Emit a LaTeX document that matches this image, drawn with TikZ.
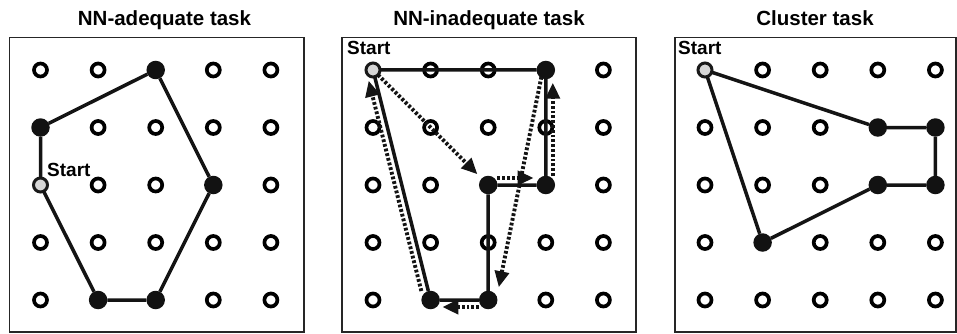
\documentclass[tikz,border=0pt]{standalone}
\usepackage{fontspec}
\setmainfont{Liberation Sans}
\usetikzlibrary{arrows.meta}

\makeatletter
% 5x5 board of targets: #1 name prefix, #2 x of the first column,
% #3 start cell, #4 cells that belong to the route (given as i-j)
\newcommand\boardgrid[4]{%
  \foreach \i in {0,...,4}{%
    \foreach \j in {0,...,4}{%
      \edef\cellkey{,\i-\j,}%
      \tikzset{cellnow/.style={opendot}}%
      \expandafter\in@\expandafter{\cellkey}{,#4,}%
      \ifin@\tikzset{cellnow/.style={visited}}\fi
      \expandafter\in@\expandafter{\cellkey}{,#3,}%
      \ifin@\tikzset{cellnow/.style={startdot}}\fi
      \node[cellnow] (#1-\i-\j) at ({#2+57.6*\i},{70+57.5*\j}) {};
    }%
  }%
}
\makeatother

\begin{document}
\begin{tikzpicture}[x=1pt,y=-1pt,
  frame/.style={draw=black!85, line width=1.4pt},
  title/.style={font=\bfseries\fontsize{20.5}{24}\selectfont, anchor=base, inner sep=0pt},
  startlbl/.style={font=\bfseries\fontsize{19}{22}\selectfont, anchor=base west, inner sep=0pt},
  opendot/.style={circle, draw=black, fill=white, line width=3.7pt, minimum size=13pt, inner sep=0pt, outer sep=0pt},
  visited/.style={circle, fill=black!93, minimum size=18.5pt, inner sep=0pt, outer sep=0pt},
  startdot/.style={circle, draw=black!90, fill=black!16, line width=3pt, minimum size=14pt, inner sep=0pt, outer sep=0pt},
  route/.style={draw=black!92, line width=3.5pt, line join=round},
  nn/.style={draw=black!92, line width=3.9pt, dash pattern=on 2.8pt off 2pt,
             arrows={-Triangle[length=16pt 0 0, width=14pt 0 0]}},
]
\useasboundingbox (0,0) rectangle (957,334);

% panel frames
\draw[frame] (9.5,37.5) rectangle (304,332);
\draw[frame] (342,37.5) rectangle (636,332);
\draw[frame] (675,37.5) rectangle (956,332);

% panel titles
\node[title] (t1) at (164.5,25.7) {NN-adequate task};
\node[title] (t2) at (489,25.7) {NN-inadequate task};
\node[title] (t3) at (815,25.7) {Cluster task};

% boards
\boardgrid{a}{40.5}{0-2}{0-1,2-0,3-2,2-4,1-4}
\boardgrid{b}{373}{0-0}{3-0,2-2,3-2,1-4,2-4}
\boardgrid{c}{705}{0-0}{3-1,4-1,3-2,4-2,1-3}

% start labels
\node[startlbl] (s1) at (47,176) {Start};
\node[startlbl] (s2) at (347,55) {Start};
\node[startlbl] (s3) at (678,55) {Start};

% optimal tours
\draw[route] (a-0-2) -- (a-0-1) -- (a-2-0) -- (a-3-2) -- (a-2-4) -- (a-1-4) -- (a-0-2);
\draw[route] (b-0-0) -- (b-3-0) -- (b-3-2) -- (b-2-2) -- (b-2-4) -- (b-1-4) -- (b-0-0);
\draw[route] (c-0-0) -- (c-3-1) -- (c-4-1) -- (c-4-2) -- (c-3-2) -- (c-1-3) -- (c-0-0);

% nearest-neighbour tour
\draw[nn, shorten >=6pt] (b-0-0) -- (b-2-2);
\draw[nn, shorten >=3pt, transform canvas={yshift=7pt}] (b-2-2) -- (b-3-2);
\draw[nn, shorten >=3.5pt, transform canvas={xshift=7pt}] (b-3-2) -- (b-3-0);
\draw[nn, shorten <=7pt, shorten >=13pt] ([xshift=-3pt]b-3-0.center) -- ([xshift=8pt]b-2-4.center);
\draw[nn, shorten >=2.5pt, transform canvas={yshift=-7pt}] (b-2-4) -- (b-1-4);
\draw[nn, shorten >=4pt, transform canvas={xshift=-7pt}] (b-1-4) -- (b-0-0);
\end{tikzpicture}
\end{document}
